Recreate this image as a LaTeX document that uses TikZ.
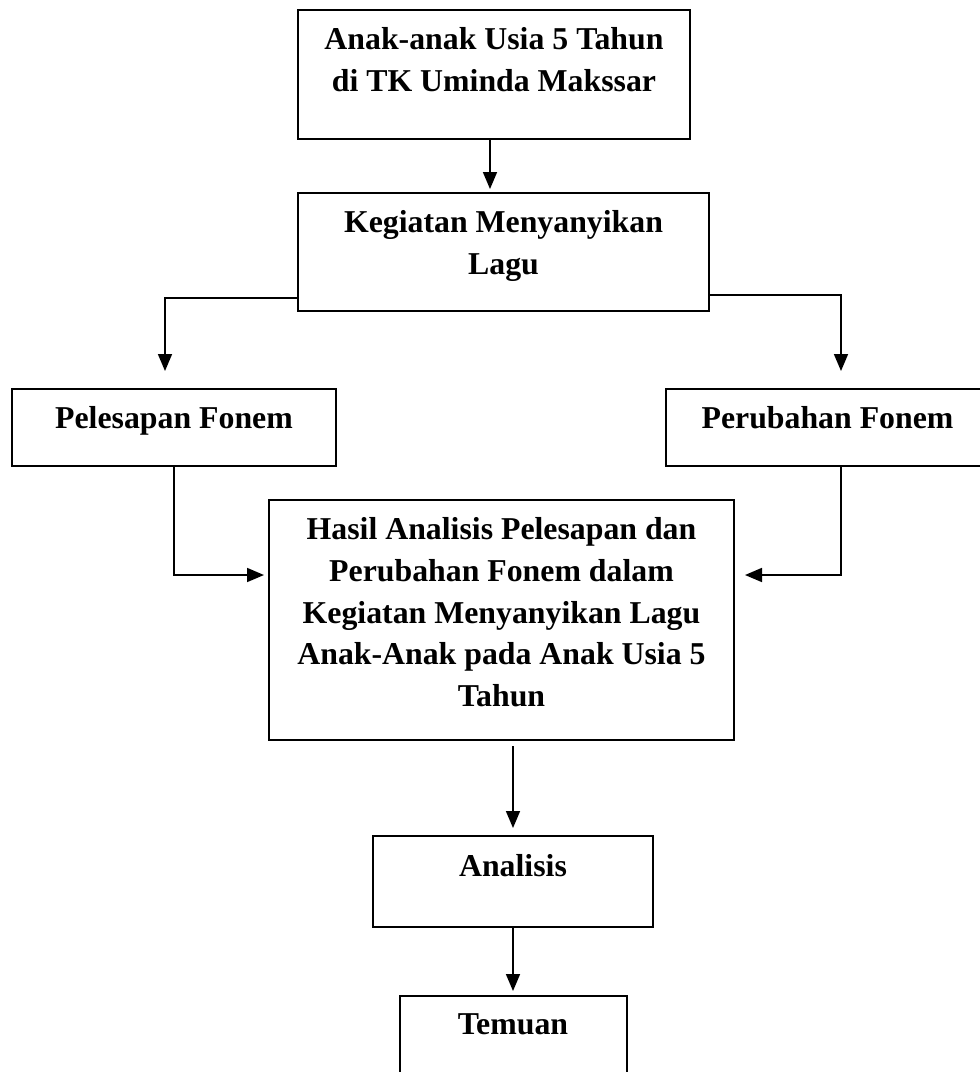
\documentclass[tikz,border=0pt]{standalone}
\usepackage{fontspec}
\setmainfont{Liberation Serif}
\usetikzlibrary{arrows.meta}

\begin{document}
\begin{tikzpicture}[x=1pt, y=-1pt, >={Triangle[length=17pt,width=14pt]},
		kotak/.style={draw, line width=2pt, inner sep=0pt},
		teks/.style={anchor=north, align=center, inner sep=0pt, font=\bfseries\fontsize{31.8}{41.7}\selectfont},
		panah/.style={->, line width=1.7pt}]
				\useasboundingbox (0,0) rectangle (980,1072);
				
				% 1. Kotak
				\node[kotak, minimum width=392pt, minimum height=129pt] (anak) at (494,74.5) {};
				\node[kotak, minimum width=411pt, minimum height=118pt] (kegiatan) at (503.5,252) {};
				\node[kotak, minimum width=324pt, minimum height=77pt] (pelesapan) at (174,427.5) {};
				\node[kotak, minimum width=323pt, minimum height=77pt] (perubahan) at (827.5,427.5) {};
				\node[kotak, minimum width=465pt, minimum height=240pt] (hasil) at (501.5,620) {};
				\node[kotak, minimum width=280pt, minimum height=91pt] (analisis) at (513,881.5) {};
				\node[kotak, minimum width=227pt, minimum height=100pt] (temuan) at (513,1046) {};
				
				% 2. Teks
				\node[teks] (t-anak) at ([yshift=-18.5pt]anak.north) {Anak-anak Usia 5 Tahun\\di TK Uminda Makssar};
				\node[teks] (t-kegiatan) at ([yshift=-18.5pt]kegiatan.north) {Kegiatan Menyanyikan\\Lagu};
				\node[teks] (t-pelesapan) at ([yshift=-18pt]pelesapan.north) {Pelesapan Fonem};
				\node[teks] (t-perubahan) at ([yshift=-18pt]perubahan.north) {Perubahan Fonem};
				\node[teks] (t-hasil) at ([yshift=-18.5pt]hasil.north) {Hasil Analisis Pelesapan dan\\Perubahan Fonem dalam\\Kegiatan Menyanyikan Lagu\\Anak-Anak pada Anak Usia 5\\Tahun};
				\node[teks] (t-analisis) at ([yshift=-19.5pt]analisis.north) {Analisis};
				\node[teks] (t-temuan) at ([yshift=-18pt]temuan.north) {Temuan};
				
				% 3. Panah
				\draw[panah, shorten >=3pt] ([xshift=-4pt]anak.south) -- ([xshift=-4pt]anak.south |- kegiatan.north);
				\draw[panah, shorten >=17pt] ([yshift=14pt]kegiatan.south west) -| ([xshift=-9pt]pelesapan.north);
				\draw[panah, shorten >=17pt] ([yshift=17pt]kegiatan.south east) -| ([xshift=13.5pt]perubahan.north);
				\draw[panah, shorten >=4pt] (pelesapan.south) |- ([yshift=45pt]hasil.west);
				\draw[panah, shorten >=10pt] ([xshift=13.5pt]perubahan.south) |- ([yshift=45pt]hasil.east);
				\draw[panah, shorten <=5pt, shorten >=7pt] (hasil.south -| analisis.north) -- (analisis.north);
				\draw[panah, shorten >=4pt] (analisis.south) -- (temuan.north);
			\end{tikzpicture}
\end{document}
